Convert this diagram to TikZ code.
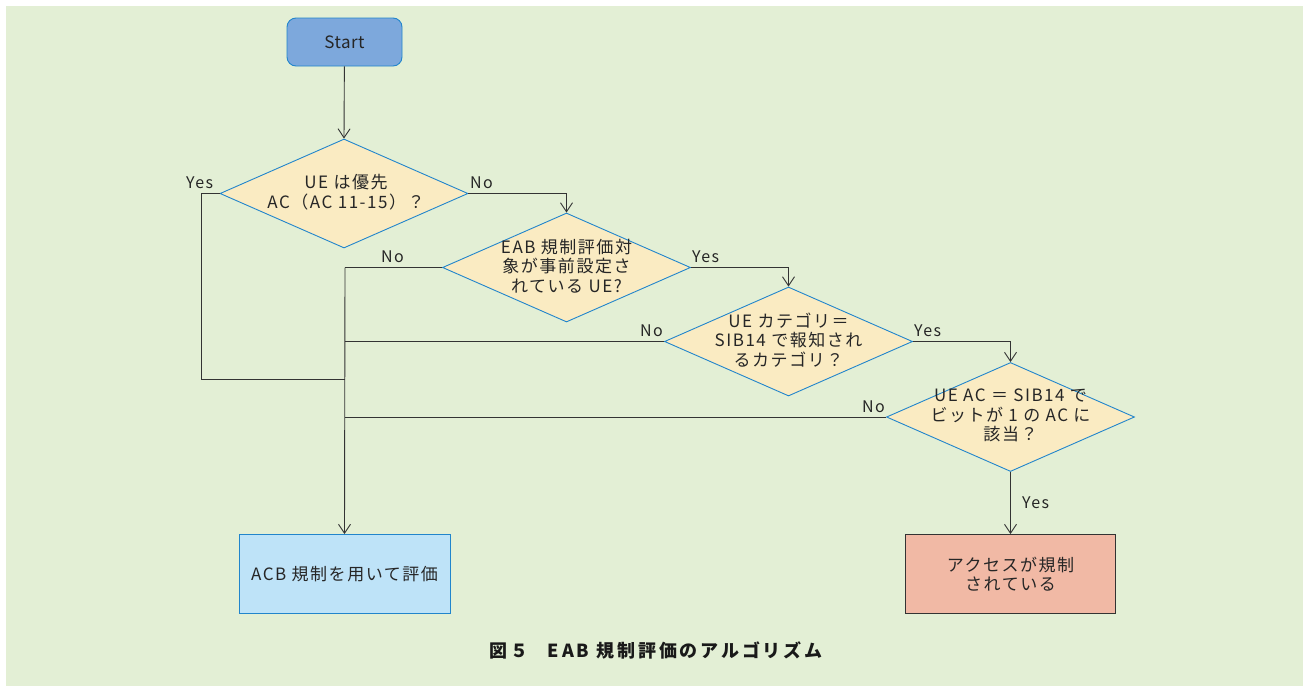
\documentclass[tikz,border=0pt]{standalone}
\usepackage{fontspec}
\setmainfont{Noto Sans CJK JP}[LetterSpace=9]
\usetikzlibrary{shapes.geometric,arrows.meta}
\definecolor{bg}{HTML}{E3EFD5}
\definecolor{dfill}{HTML}{FAEBC2}
\definecolor{dline}{HTML}{2185CC}
\definecolor{sfill}{HTML}{7DA8DC}
\definecolor{afill}{HTML}{BEE3F8}
\definecolor{rfill}{HTML}{F1B9A5}
\definecolor{ln}{HTML}{333333}
\begin{document}
\begin{tikzpicture}[x=1pt,y=-1pt,
  txt/.style={font=\fontsize{17}{19.5}\selectfont, text=black!85, align=center},
  dec/.style={diamond, draw=dline, fill=dfill, line width=0.9pt, minimum width=248pt, minimum height=109pt, aspect=2.27, inner sep=0pt},
  conn/.style={draw=ln, line width=0.9pt},
  arr/.style={conn, -{Straight Barb[length=9pt,width=12pt,line width=0.9pt]}},
  lab/.style={font=\fontsize{16}{18}\selectfont, text=black!85, inner sep=0pt}]
\useasboundingbox (0,0) rectangle (1303,686);
\fill[bg] (6,6) rectangle (1303,686);

\node[txt, font=\fontsize{17}{19.5}\selectfont\addfontfeature{LetterSpace=3}, draw=dline, fill=sfill, rounded corners=9pt, line width=0.9pt, minimum width=115pt, minimum height=48pt] (start) at (344.5,42) {Start};

\node[dec] (d1) at (344,193.5) {};
\node[dec] (d2) at (566.5,267.5) {};
\node[dec] (d3) at (788.5,341.5) {};
\node[dec] (d4) at (1010.5,417) {};
\node[txt] (t1) at (346,192) {UE は優先\\AC（AC 11-15）？};
\node[txt] (t2) at (566.5,266) {EAB 規制評価対\\象が事前設定さ\\れている UE?};
\node[txt] (t3) at (788.5,340) {UE カテゴリ＝\\SIB14 で報知され\\るカテゴリ？};
\node[txt] (t4) at (1010.5,415.5) {UE AC ＝ SIB14 で\\ビットが 1 の AC に\\該当？};

\node[txt, draw=dline, fill=afill, line width=0.9pt, minimum width=211pt, minimum height=79pt] (acb) at (344.5,574) {ACB 規制を用いて評価};
\node[txt, draw=ln, fill=rfill, line width=0.9pt, minimum width=210pt, minimum height=79pt] (reg) at (1010.5,574) {アクセスが規制\\されている};

\coordinate (y1) at (201,193.5);
\coordinate (y2) at (201,379);
\coordinate (j1) at (345,379);
\coordinate (jtop) at (345,267.5);

\draw[arr] (start) -- (d1.north);
\draw[arr] (d1.east) -| (d2.north);
\draw[arr] (d2.east) -| (d3.north);
\draw[arr] (d3.east) -| (d4.north);
\draw[arr] (d4.south) -- (reg.north);
\draw[conn] (d1.west) -- (y1) -- (y2) -- (j1);
\draw[conn] (d2.west) -- (jtop);
\draw[conn] (d3.west) -- (345,341.5);
\draw[conn] (d4.west) -- (345,417);
\draw[arr] (jtop) -- (acb.north);

\node[lab, anchor=south west] (lyes1) at (186,189) {Yes};
\node[lab, anchor=south west] (lno1) at (470,189) {No};
\node[lab, anchor=south west] (lno2) at (381,263) {No};
\node[lab, anchor=south west] (lyes2) at (692,263) {Yes};
\node[lab, anchor=south west] (lno3) at (640,337) {No};
\node[lab, anchor=south west] (lyes3) at (914,337) {Yes};
\node[lab, anchor=south west] (lno4) at (862,413) {No};
\node[lab, anchor=west] (lyes4) at (1022,503) {Yes};

\node[font=\fontsize{18}{19}\selectfont\bfseries\addfontfeature{LetterSpace=16}, text=black!90] (cap) at (656,650) {図５\hspace{1.1em}EAB 規制評価のアルゴリズム};
\end{tikzpicture}
\end{document}
